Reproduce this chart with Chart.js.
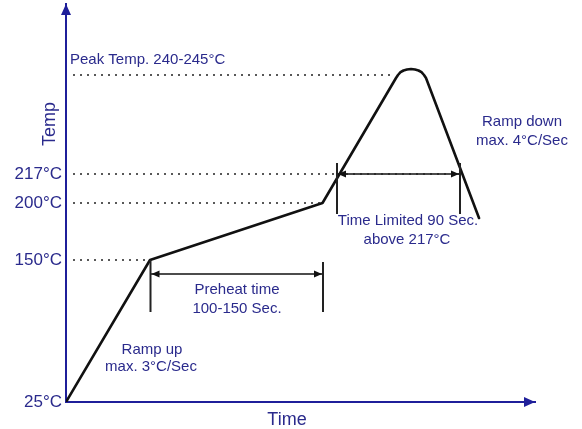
<!DOCTYPE html>
<html>
<head>
<meta charset="utf-8">
<script src="https://cdn.jsdelivr.net/npm/chart.js@4"></script>
<style>
  html, body { margin: 0; padding: 0; background: #fff; }
  canvas { display: block; }
</style>
</head>
<body>
<canvas id="profile" width="582" height="429"></canvas>
<script>
// schematic reflow profile (time units / level units)
const profileTime  = [0, 84, 256.5, 330, 332, 334.5, 337.5, 341, 345, 349, 352.5, 355.5, 358, 360, 413];
const profileLevel = [0, 142, 199, 324, 327, 329.8, 331.5, 332.5, 333, 332.5, 331.5, 329.8, 327, 324, 184];

// temperature ticks on the vertical axis
const tickLevels = [0, 142, 199, 228];
const tickLabels = ['25°C', '150°C', '200°C', '217°C'];

// dotted guides: level and where each one stops
const guideLevels = [142, 199, 228, 327];
const guideEnds   = [84, 256, 399, 326];

// dimension spans
const preheatSpan = [84.5, 257];
const preheatLevel = 128;
const liquidusSpan = [271, 394];
const liquidusLevel = 228;

const notes = [
  { text: 'Peak Temp. 240-245°C', x: 4, y: 342.5, align: 'left' },
  { text: 'Ramp up', x: 86, y: 52 },
  { text: 'max. 3°C/Sec', x: 85, y: 35 },
  { text: 'Preheat time', x: 171, y: 112 },
  { text: '100-150 Sec.', x: 171, y: 93 },
  { text: 'Time Limited 90 Sec.', x: 342, y: 181 },
  { text: 'above 217°C', x: 341, y: 162 },
  { text: 'Ramp down', x: 456, y: 280 },
  { text: 'max. 4°C/Sec', x: 456, y: 261 },
];

const axisColor = '#1f1f9a';
const textColor = '#2a2a8c';
const fontFamily = "'Liberation Sans', Arial, sans-serif";

const pts = (xs, ys) => xs.map((x, i) => ({ x, y: ys[i] }));

const datasets = [];
guideLevels.forEach((lv, i) => {
  datasets.push({
    data: [{ x: 7, y: lv }, { x: guideEnds[i], y: lv }],
    borderColor: '#222', borderWidth: 1.6, borderDash: [2, 5],
  });
});
[[preheatSpan[0], 142, 90], [preheatSpan[1], 140, 90],
 [liquidusSpan[0], 239, 188], [liquidusSpan[1], 239, 188]].forEach(([x, y0, y1]) => {
  datasets.push({ data: [{ x, y: y0 }, { x, y: y1 }], borderColor: '#222', borderWidth: 2 });
});
[[preheatSpan, preheatLevel], [liquidusSpan, liquidusLevel]].forEach(([s, lv]) => {
  datasets.push({ data: [{ x: s[0], y: lv }, { x: s[1], y: lv }], borderColor: '#111', borderWidth: 1.6 });
});
datasets.push({
  data: pts(profileTime, profileLevel),
  borderColor: '#111', borderWidth: 2.6,
  borderJoinStyle: 'round', borderCapStyle: 'round',
});

function tri(ctx, tx, ty, dx, dy, len, half) {
  const bx = tx - dx * len, by = ty - dy * len;
  ctx.beginPath();
  ctx.moveTo(tx, ty);
  ctx.lineTo(bx - dy * half, by + dx * half);
  ctx.lineTo(bx + dy * half, by - dx * half);
  ctx.closePath();
  ctx.fill();
}

const overlay = {
  id: 'overlay',
  afterDatasetsDraw(chart) {
    const { ctx, chartArea: a, scales: { x, y } } = chart;
    ctx.save();
    ctx.fillStyle = axisColor;
    tri(ctx, a.left, a.top, 0, -1, 11, 5);
    tri(ctx, a.right, a.bottom, 1, 0, 11, 5);

    ctx.fillStyle = '#111';
    [[preheatSpan, preheatLevel], [liquidusSpan, liquidusLevel]].forEach(([s, lv]) => {
      const py = y.getPixelForValue(lv);
      tri(ctx, x.getPixelForValue(s[0]) + 1, py, -1, 0, 8, 3.5);
      tri(ctx, x.getPixelForValue(s[1]) - 1, py, 1, 0, 8, 3.5);
    });

    ctx.fillStyle = textColor;
    ctx.textBaseline = 'middle';
    ctx.font = `15px ${fontFamily}`;
    notes.forEach(n => {
      ctx.textAlign = n.align || 'center';
      ctx.fillText(n.text, x.getPixelForValue(n.x), y.getPixelForValue(n.y));
    });

    ctx.font = `18px ${fontFamily}`;
    ctx.textAlign = 'center';
    ctx.fillText('Time', 287, a.bottom + 18);
    ctx.translate(a.left - 16, 124);
    ctx.rotate(-Math.PI / 2);
    ctx.fillText('Temp', 0, 0);
    ctx.restore();
  }
};

new Chart(document.getElementById('profile'), {
  type: 'line',
  data: { datasets },
  plugins: [overlay],
  options: {
    responsive: false,
    animation: false,
    layout: { padding: { top: 4, right: 47, left: 0, bottom: 0 } },
    elements: { point: { radius: 0, hoverRadius: 0 }, line: { tension: 0 } },
    plugins: { legend: { display: false }, tooltip: { enabled: false } },
    scales: {
      x: {
        type: 'linear', min: 0, max: 469,
        ticks: { display: false },
        grid: { drawOnChartArea: false, drawTicks: false },
        border: { color: axisColor, width: 2 },
        afterFit(s) { s.height = 27; s.paddingLeft = 0; s.paddingRight = 0; },
      },
      y: {
        type: 'linear', min: 0, max: 398,
        afterBuildTicks(s) { s.ticks = tickLevels.map(v => ({ value: v })); },
        ticks: {
          autoSkip: false, padding: 4, color: textColor,
          font: { family: fontFamily, size: 17 },
          callback: (v, i) => tickLabels[i],
        },
        grid: { drawOnChartArea: false, drawTicks: false },
        border: { color: axisColor, width: 2 },
        afterFit(s) { s.width = 66; s.paddingTop = 0; s.paddingBottom = 0; },
      },
    },
  },
});
</script>
</body>
</html>
